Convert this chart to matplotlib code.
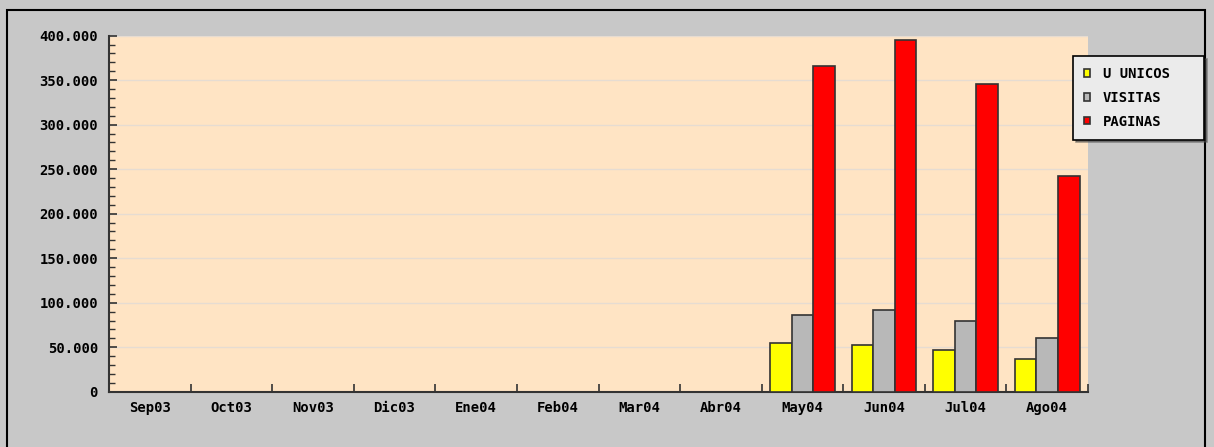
import matplotlib.pyplot as plt
import numpy as np
from matplotlib.patches import Rectangle
from matplotlib.ticker import FuncFormatter, MultipleLocator

meses = ["Sep03", "Oct03", "Nov03", "Dic03", "Ene04", "Feb04",
         "Mar04", "Abr04", "May04", "Jun04", "Jul04", "Ago04"]
u_unicos = [0, 0, 0, 0, 0, 0, 0, 0, 54400, 52800, 46900, 37300]
visitas = [0, 0, 0, 0, 0, 0, 0, 0, 86600, 91400, 79700, 60200]
paginas = [0, 0, 0, 0, 0, 0, 0, 0, 365600, 395500, 345700, 242000]

series = [("U UNICOS", u_unicos, "#ffff00"),
          ("VISITAS", visitas, "#b8b8b8"),
          ("PAGINAS", paginas, "#ff0000")]

fig = plt.figure(figsize=(12.14, 4.47), dpi=100, facecolor="#c8c8c8")
# marco exterior
fig.patches.append(Rectangle((7 / 1214, -0.05), 1198 / 1214, 1.05 - 10 / 447,
                             transform=fig.transFigure, fill=False,
                             edgecolor="black", lw=1.5))

ax = fig.add_axes([109 / 1214, 1 - 391.7 / 447, 979 / 1214, 356 / 447])
ax.set_facecolor("#ffe4c4")

x = np.arange(len(meses))
w = 0.265
for i, (nombre, vals, col) in enumerate(series):
    ax.bar(x + (i - 1) * w, vals, w, color=col, edgecolor="#333333",
           linewidth=1.2, label=nombre, zorder=3)

ax.set_xlim(-0.5, len(meses) - 0.5)
ax.set_ylim(0, 400000)

fuente = dict(family="DejaVu Sans Mono", weight="bold", size=10)

ax.set_xticks(x)
ax.set_xticklabels(meses, **fuente)
ax.set_xticks(np.arange(len(meses) + 1) - 0.5, minor=True)
ax.tick_params(axis="x", which="major", length=0, pad=7)
ax.tick_params(axis="x", which="minor", direction="in", length=6,
               width=1.2, color="#333333")

ax.yaxis.set_major_locator(MultipleLocator(50000))
ax.yaxis.set_minor_locator(MultipleLocator(10000))
ax.yaxis.set_major_formatter(FuncFormatter(lambda v, p: f"{int(v):,}".replace(",", ".")))
ax.tick_params(axis="y", which="major", direction="in", length=6,
               width=1.2, color="#333333", pad=8)
ax.tick_params(axis="y", which="minor", direction="in", length=4,
               width=1.0, color="#333333")
plt.setp(ax.get_yticklabels(), **fuente)

ax.grid(axis="y", color="#e6dcd2", lw=1, zorder=0)
for s in ["top", "right"]:
    ax.spines[s].set_visible(False)
for s in ["left", "bottom"]:
    ax.spines[s].set_color("#333333")
    ax.spines[s].set_linewidth(1.5)

# leyenda a la derecha
leg = fig.legend(loc="upper left",
                 bbox_to_anchor=(1073 / 1214, 1 - 143 / 447, 131 / 1214, 87 / 447),
                 mode="expand", borderaxespad=0,
                 prop=dict(family="DejaVu Sans Mono", weight="bold", size=10),
                 facecolor="#ebebeb", edgecolor="black", framealpha=1,
                 fancybox=False, shadow=True, handlelength=0.45,
                 handleheight=0.45, borderpad=0.8, labelspacing=0.7,
                 handletextpad=0.9)
leg.get_frame().set_linewidth(1.2)

fig.savefig("out.png", dpi=100, facecolor=fig.get_facecolor())
